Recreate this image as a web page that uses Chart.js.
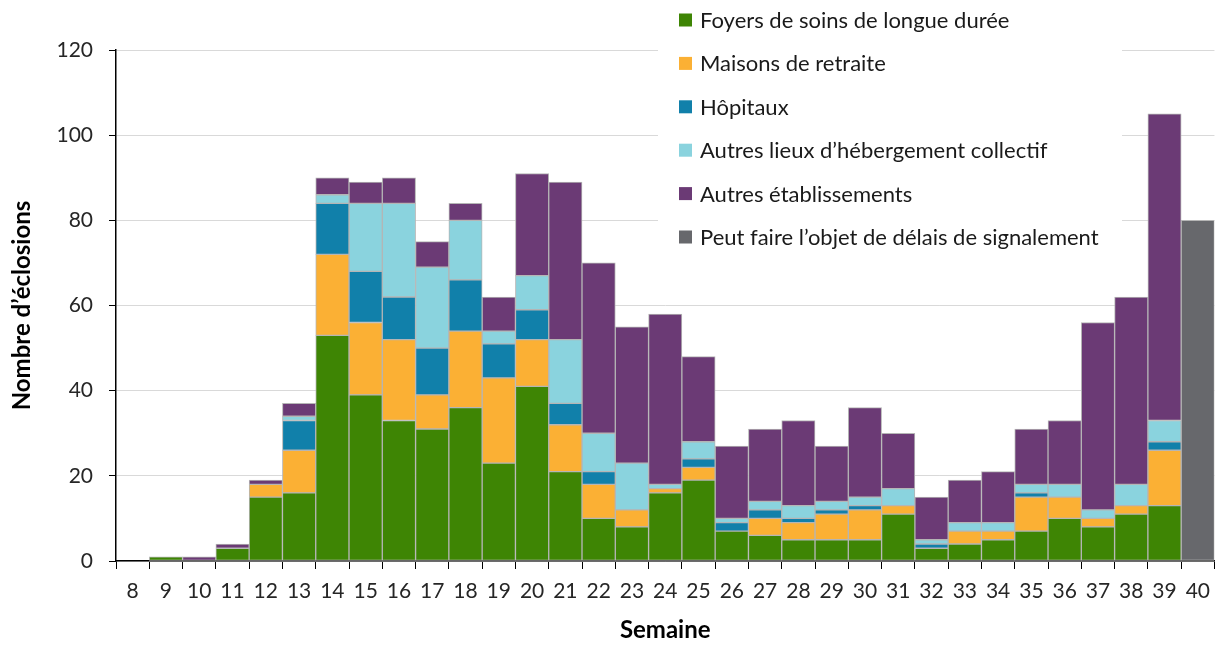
<!DOCTYPE html>
<html lang="fr">
<head>
    <meta charset="UTF-8">
    <title>Éclosions par semaine</title>
    <script src="https://cdn.jsdelivr.net/npm/chart.js"></script>
    <style>
        html, body { margin: 0; padding: 0; background: #fff; overflow: hidden; }
        #cadre { width: 1220px; height: 646px; position: relative; }
    </style>
</head>
<body>
    <div id="cadre"><canvas id="eclosions"></canvas></div>
    <script>
        const semaines = ['8','9','10','11','12','13','14','15','16','17','18','19','20','21','22','23','24',
                          '25','26','27','28','29','30','31','32','33','34','35','36','37','38','39','40'];
        const foyersSoins   = [0,1,0,3,15,16,53,39,33,31,36,23,41,21,10,8,16,19,7,6,5,5,5,11,3,4,5,7,10,8,11,13,0];
        const maisonsRetraite = [0,0,0,0,3,10,19,17,19,8,18,20,11,11,8,4,1,3,0,4,4,6,7,2,0,3,2,8,5,2,2,13,0];
        const hopitaux      = [0,0,0,0,0,7,12,12,10,11,12,8,7,5,3,0,0,2,2,2,1,1,1,0,1,0,0,1,0,0,0,2,0];
        const autresLieux   = [0,0,0,0,0,1,2,16,22,19,14,3,8,15,9,11,1,4,1,2,3,2,2,4,1,2,2,2,3,2,5,5,0];
        const autresEtab    = [0,0,1,1,1,3,4,5,6,6,4,8,24,37,40,32,40,20,17,17,20,13,21,13,10,10,12,13,15,44,44,72,0];
        const delais        = [0,0,0,0,0,0,0,0,0,0,0,0,0,0,0,0,0,0,0,0,0,0,0,0,0,0,0,0,0,0,0,0,80];

        const noms = ['Foyers de soins de longue durée', 'Maisons de retraite', 'Hôpitaux',
                      'Autres lieux d’hébergement collectif', 'Autres établissements',
                      'Peut faire l’objet de délais de signalement'];
        const couleurs = ['#3e8504', '#fbb034', '#1180aa', '#8ad3de', '#6b3a75', '#67686c'];
        const series = [foyersSoins, maisonsRetraite, hopitaux, autresLieux, autresEtab, delais];

        const police = 'Lato, "Open Sans", sans-serif';

        // légende dessinée dans la zone du graphique, sur fond blanc
        const legende = {
            id: 'legende',
            beforeDatasetsDraw(chart) {
                const ctx = chart.ctx;
                ctx.save();
                ctx.fillStyle = '#fff';
                ctx.fillRect(658, 0, 464, 258);
                ctx.font = '22px ' + police;
                ctx.textBaseline = 'middle';
                noms.forEach((nom, i) => {
                    const y = 20 + i * 43.4;
                    ctx.fillStyle = couleurs[i];
                    ctx.fillRect(679, y - 6.5, 13, 13);
                    ctx.fillStyle = '#1a1a1a';
                    ctx.fillText(nom, 700, y + 1);
                });
                ctx.restore();
            }
        };

        new Chart(document.getElementById('eclosions'), {
            type: 'bar',
            data: {
                labels: semaines,
                datasets: series.map((valeurs, i) => ({
                    label: noms[i],
                    data: valeurs,
                    backgroundColor: couleurs[i],
                    borderColor: '#b5b5b5',
                    borderWidth: 1,
                    borderSkipped: false,
                    barPercentage: 1,
                    categoryPercentage: 1
                }))
            },
            options: {
                responsive: true,
                maintainAspectRatio: false,
                animation: false,
                layout: { padding: { top: 50, right: 0, bottom: 0, left: 0 } },
                plugins: { legend: { display: false }, tooltip: { enabled: false } },
                scales: {
                    x: {
                        stacked: true,
                        afterFit: (s) => { s.height = 85; },
                        grid: { drawOnChartArea: false, drawTicks: true, tickLength: 8, tickColor: '#000', offset: true },
                        border: { color: '#000', width: 1.5 },
                        ticks: { color: '#262626', font: { family: police, size: 21 }, padding: 10, maxRotation: 0, autoSkip: false },
                        title: { display: true, text: 'Semaine', color: '#000', font: { family: police, size: 24, weight: 'bold' }, padding: { top: 0, bottom: 1 } }
                    },
                    y: {
                        stacked: true,
                        min: 0,
                        max: 120,
                        afterFit: (s) => { s.width = 116; },
                        grid: { color: '#d9d9d9', tickColor: '#000', tickLength: 7 },
                        border: { color: '#000', width: 1.5 },
                        ticks: { stepSize: 20, color: '#262626', font: { family: police, size: 21 }, padding: 16 },
                        title: { display: true, text: 'Nombre d’éclosions', color: '#000', font: { family: police, size: 24, weight: 'bold' }, padding: { top: 8, bottom: 0 } }
                    }
                }
            },
            plugins: [legende]
        });
    </script>
</body>
</html>
